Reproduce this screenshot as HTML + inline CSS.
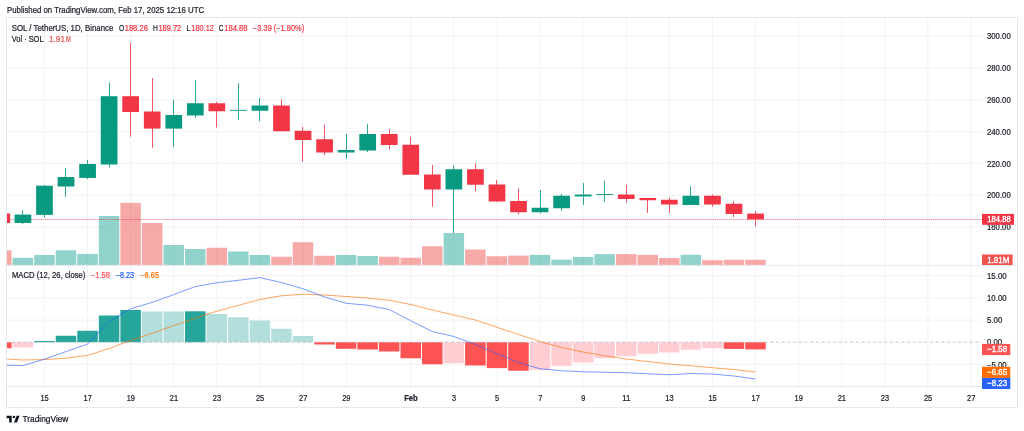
<!DOCTYPE html><html><head><meta charset="utf-8"><title>SOL chart</title><style>html,body{margin:0;padding:0;background:#fff}body{width:1024px;height:431px;position:relative;overflow:hidden;font-family:"Liberation Sans",sans-serif}</style></head><body><svg width="1024" height="431" viewBox="0 0 1024 431" style="position:absolute;left:0;top:0;will-change:transform;font-family:'Liberation Sans',sans-serif">
<defs><clipPath id="cp"><rect x="7" y="17.5" width="975" height="369.1"/></clipPath></defs>
<g stroke="#f2f2f4" stroke-width="1" shape-rendering="auto">
<line x1="44.43" y1="17.5" x2="44.43" y2="389.6"/>
<line x1="87.52" y1="17.5" x2="87.52" y2="389.6"/>
<line x1="130.62" y1="17.5" x2="130.62" y2="389.6"/>
<line x1="173.71" y1="17.5" x2="173.71" y2="389.6"/>
<line x1="216.81" y1="17.5" x2="216.81" y2="389.6"/>
<line x1="259.90" y1="17.5" x2="259.90" y2="389.6"/>
<line x1="302.99" y1="17.5" x2="302.99" y2="389.6"/>
<line x1="346.09" y1="17.5" x2="346.09" y2="389.6"/>
<line x1="410.73" y1="17.5" x2="410.73" y2="389.6"/>
<line x1="453.82" y1="17.5" x2="453.82" y2="389.6"/>
<line x1="496.92" y1="17.5" x2="496.92" y2="389.6"/>
<line x1="540.01" y1="17.5" x2="540.01" y2="389.6"/>
<line x1="583.11" y1="17.5" x2="583.11" y2="389.6"/>
<line x1="626.20" y1="17.5" x2="626.20" y2="389.6"/>
<line x1="669.29" y1="17.5" x2="669.29" y2="389.6"/>
<line x1="712.39" y1="17.5" x2="712.39" y2="389.6"/>
<line x1="755.48" y1="17.5" x2="755.48" y2="389.6"/>
<line x1="798.57" y1="17.5" x2="798.57" y2="389.6"/>
<line x1="841.67" y1="17.5" x2="841.67" y2="389.6"/>
<line x1="884.76" y1="17.5" x2="884.76" y2="389.6"/>
<line x1="927.86" y1="17.5" x2="927.86" y2="389.6"/>
<line x1="970.95" y1="17.5" x2="970.95" y2="389.6"/>
<line x1="6.5" y1="36.20" x2="982" y2="36.20"/>
<line x1="6.5" y1="68.00" x2="982" y2="68.00"/>
<line x1="6.5" y1="99.80" x2="982" y2="99.80"/>
<line x1="6.5" y1="131.60" x2="982" y2="131.60"/>
<line x1="6.5" y1="163.40" x2="982" y2="163.40"/>
<line x1="6.5" y1="195.20" x2="982" y2="195.20"/>
<line x1="6.5" y1="227.00" x2="982" y2="227.00"/>
<line x1="6.5" y1="275.60" x2="982" y2="275.60"/>
<line x1="6.5" y1="297.80" x2="982" y2="297.80"/>
<line x1="6.5" y1="320.00" x2="982" y2="320.00"/>
<line x1="6.5" y1="364.40" x2="982" y2="364.40"/>
</g>
<g stroke="#e6e7ea" stroke-width="1" fill="none">
<rect x="6.5" y="17.5" width="1011" height="389.9"/>
<line x1="6.5" y1="265.4" x2="1017.5" y2="265.4"/>
<line x1="6.5" y1="386.6" x2="982" y2="386.6"/>
</g>
<g clip-path="url(#cp)">
<rect x="-8.91" y="250.30" width="20.5" height="14.60" fill="rgba(239,83,80,0.5)"/>
<rect x="12.63" y="257.80" width="20.5" height="7.10" fill="rgba(38,166,154,0.5)"/>
<rect x="34.18" y="255.00" width="20.5" height="9.90" fill="rgba(38,166,154,0.5)"/>
<rect x="55.73" y="250.30" width="20.5" height="14.60" fill="rgba(38,166,154,0.5)"/>
<rect x="77.27" y="253.90" width="20.5" height="11.00" fill="rgba(38,166,154,0.5)"/>
<rect x="98.82" y="216.00" width="20.5" height="48.90" fill="rgba(38,166,154,0.5)"/>
<rect x="120.37" y="202.90" width="20.5" height="62.00" fill="rgba(239,83,80,0.5)"/>
<rect x="141.91" y="223.00" width="20.5" height="41.90" fill="rgba(239,83,80,0.5)"/>
<rect x="163.46" y="245.00" width="20.5" height="19.90" fill="rgba(38,166,154,0.5)"/>
<rect x="185.01" y="249.00" width="20.5" height="15.90" fill="rgba(38,166,154,0.5)"/>
<rect x="206.56" y="247.75" width="20.5" height="17.15" fill="rgba(239,83,80,0.5)"/>
<rect x="228.10" y="251.50" width="20.5" height="13.40" fill="rgba(38,166,154,0.5)"/>
<rect x="249.65" y="255.00" width="20.5" height="9.90" fill="rgba(38,166,154,0.5)"/>
<rect x="271.20" y="256.75" width="20.5" height="8.15" fill="rgba(239,83,80,0.5)"/>
<rect x="292.74" y="242.25" width="20.5" height="22.65" fill="rgba(239,83,80,0.5)"/>
<rect x="314.29" y="255.75" width="20.5" height="9.15" fill="rgba(239,83,80,0.5)"/>
<rect x="335.84" y="255.00" width="20.5" height="9.90" fill="rgba(38,166,154,0.5)"/>
<rect x="357.38" y="256.00" width="20.5" height="8.90" fill="rgba(38,166,154,0.5)"/>
<rect x="378.93" y="256.75" width="20.5" height="8.15" fill="rgba(239,83,80,0.5)"/>
<rect x="400.48" y="257.75" width="20.5" height="7.15" fill="rgba(239,83,80,0.5)"/>
<rect x="422.03" y="246.25" width="20.5" height="18.65" fill="rgba(239,83,80,0.5)"/>
<rect x="443.57" y="233.00" width="20.5" height="31.90" fill="rgba(38,166,154,0.5)"/>
<rect x="465.12" y="249.50" width="20.5" height="15.40" fill="rgba(239,83,80,0.5)"/>
<rect x="486.67" y="256.25" width="20.5" height="8.65" fill="rgba(239,83,80,0.5)"/>
<rect x="508.21" y="255.60" width="20.5" height="9.30" fill="rgba(239,83,80,0.5)"/>
<rect x="529.76" y="254.90" width="20.5" height="10.00" fill="rgba(38,166,154,0.5)"/>
<rect x="551.31" y="259.60" width="20.5" height="5.30" fill="rgba(38,166,154,0.5)"/>
<rect x="572.86" y="256.90" width="20.5" height="8.00" fill="rgba(38,166,154,0.5)"/>
<rect x="594.40" y="254.10" width="20.5" height="10.80" fill="rgba(38,166,154,0.5)"/>
<rect x="615.95" y="254.10" width="20.5" height="10.80" fill="rgba(239,83,80,0.5)"/>
<rect x="637.50" y="254.90" width="20.5" height="10.00" fill="rgba(239,83,80,0.5)"/>
<rect x="659.04" y="258.00" width="20.5" height="6.90" fill="rgba(239,83,80,0.5)"/>
<rect x="680.59" y="254.75" width="20.5" height="10.15" fill="rgba(38,166,154,0.5)"/>
<rect x="702.14" y="260.25" width="20.5" height="4.65" fill="rgba(239,83,80,0.5)"/>
<rect x="723.68" y="259.75" width="20.5" height="5.15" fill="rgba(239,83,80,0.5)"/>
<rect x="745.23" y="259.75" width="20.5" height="5.15" fill="rgba(239,83,80,0.5)"/>
<line x1="7" y1="219.5" x2="982" y2="219.5" stroke="#f23645" stroke-width="1" stroke-dasharray="1 1" opacity="0.45" shape-rendering="crispEdges"/>
<line x1="7" y1="219.5" x2="982" y2="219.5" stroke="#f23645" stroke-width="1" opacity="0.18"/>
<line x1="1.50" y1="213.50" x2="1.50" y2="223.00" stroke="#f23645" stroke-width="0.85"/>
<rect x="-6.56" y="213.50" width="16.7" height="9.50" fill="#f23645"/>
<line x1="22.50" y1="210.40" x2="22.50" y2="224.00" stroke="#089981" stroke-width="0.85"/>
<rect x="14.58" y="214.60" width="16.7" height="8.40" fill="#089981"/>
<line x1="44.50" y1="185.00" x2="44.50" y2="217.70" stroke="#089981" stroke-width="0.85"/>
<rect x="36.13" y="185.70" width="16.7" height="29.20" fill="#089981"/>
<line x1="65.50" y1="168.00" x2="65.50" y2="196.80" stroke="#089981" stroke-width="0.85"/>
<rect x="57.68" y="177.00" width="16.7" height="9.50" fill="#089981"/>
<line x1="87.50" y1="160.00" x2="87.50" y2="179.00" stroke="#089981" stroke-width="0.85"/>
<rect x="79.22" y="164.00" width="16.7" height="13.90" fill="#089981"/>
<line x1="109.50" y1="82.40" x2="109.50" y2="167.30" stroke="#089981" stroke-width="0.85"/>
<rect x="100.77" y="96.20" width="16.7" height="68.30" fill="#089981"/>
<line x1="130.50" y1="42.60" x2="130.50" y2="136.70" stroke="#f23645" stroke-width="0.85"/>
<rect x="122.32" y="96.20" width="16.7" height="15.80" fill="#f23645"/>
<line x1="152.50" y1="78.00" x2="152.50" y2="147.70" stroke="#f23645" stroke-width="0.85"/>
<rect x="143.86" y="111.50" width="16.7" height="17.10" fill="#f23645"/>
<line x1="173.50" y1="99.70" x2="173.50" y2="147.00" stroke="#089981" stroke-width="0.85"/>
<rect x="165.41" y="115.00" width="16.7" height="13.60" fill="#089981"/>
<line x1="195.50" y1="80.00" x2="195.50" y2="118.00" stroke="#089981" stroke-width="0.85"/>
<rect x="186.96" y="103.25" width="16.7" height="12.25" fill="#089981"/>
<line x1="216.50" y1="101.75" x2="216.50" y2="127.50" stroke="#f23645" stroke-width="0.85"/>
<rect x="208.51" y="103.25" width="16.7" height="8.00" fill="#f23645"/>
<line x1="238.50" y1="83.25" x2="238.50" y2="120.00" stroke="#089981" stroke-width="0.85"/>
<rect x="230.05" y="109.90" width="16.7" height="0.90" fill="#089981"/>
<line x1="259.50" y1="98.00" x2="259.50" y2="121.25" stroke="#089981" stroke-width="0.85"/>
<rect x="251.60" y="105.50" width="16.7" height="5.25" fill="#089981"/>
<line x1="281.50" y1="99.50" x2="281.50" y2="131.25" stroke="#f23645" stroke-width="0.85"/>
<rect x="273.15" y="105.50" width="16.7" height="25.75" fill="#f23645"/>
<line x1="302.50" y1="127.00" x2="302.50" y2="161.50" stroke="#f23645" stroke-width="0.85"/>
<rect x="294.69" y="130.75" width="16.7" height="9.25" fill="#f23645"/>
<line x1="324.50" y1="124.50" x2="324.50" y2="155.00" stroke="#f23645" stroke-width="0.85"/>
<rect x="316.24" y="139.25" width="16.7" height="13.25" fill="#f23645"/>
<line x1="346.50" y1="134.00" x2="346.50" y2="158.75" stroke="#089981" stroke-width="0.85"/>
<rect x="337.79" y="150.00" width="16.7" height="2.50" fill="#089981"/>
<line x1="367.50" y1="124.00" x2="367.50" y2="152.00" stroke="#089981" stroke-width="0.85"/>
<rect x="359.33" y="134.00" width="16.7" height="16.50" fill="#089981"/>
<line x1="389.50" y1="128.75" x2="389.50" y2="149.50" stroke="#f23645" stroke-width="0.85"/>
<rect x="380.88" y="134.00" width="16.7" height="11.00" fill="#f23645"/>
<line x1="410.50" y1="137.00" x2="410.50" y2="174.75" stroke="#f23645" stroke-width="0.85"/>
<rect x="402.43" y="144.75" width="16.7" height="30.00" fill="#f23645"/>
<line x1="432.50" y1="165.00" x2="432.50" y2="206.75" stroke="#f23645" stroke-width="0.85"/>
<rect x="423.98" y="174.50" width="16.7" height="15.00" fill="#f23645"/>
<line x1="453.50" y1="165.50" x2="453.50" y2="233.00" stroke="#089981" stroke-width="0.85"/>
<rect x="445.52" y="169.25" width="16.7" height="20.25" fill="#089981"/>
<line x1="475.50" y1="163.25" x2="475.50" y2="191.50" stroke="#f23645" stroke-width="0.85"/>
<rect x="467.07" y="169.25" width="16.7" height="15.50" fill="#f23645"/>
<line x1="496.50" y1="180.00" x2="496.50" y2="202.00" stroke="#f23645" stroke-width="0.85"/>
<rect x="488.62" y="184.50" width="16.7" height="17.00" fill="#f23645"/>
<line x1="518.50" y1="188.50" x2="518.50" y2="214.50" stroke="#f23645" stroke-width="0.85"/>
<rect x="510.16" y="201.00" width="16.7" height="11.25" fill="#f23645"/>
<line x1="540.50" y1="190.00" x2="540.50" y2="213.50" stroke="#089981" stroke-width="0.85"/>
<rect x="531.71" y="207.75" width="16.7" height="4.50" fill="#089981"/>
<line x1="561.50" y1="193.75" x2="561.50" y2="210.75" stroke="#089981" stroke-width="0.85"/>
<rect x="553.26" y="195.75" width="16.7" height="12.50" fill="#089981"/>
<line x1="583.50" y1="183.00" x2="583.50" y2="205.00" stroke="#089981" stroke-width="0.85"/>
<rect x="574.81" y="194.50" width="16.7" height="2.00" fill="#089981"/>
<line x1="604.50" y1="180.50" x2="604.50" y2="201.75" stroke="#089981" stroke-width="0.85"/>
<rect x="596.35" y="194.10" width="16.7" height="0.90" fill="#089981"/>
<line x1="626.50" y1="185.00" x2="626.50" y2="202.50" stroke="#f23645" stroke-width="0.85"/>
<rect x="617.90" y="194.50" width="16.7" height="4.50" fill="#f23645"/>
<line x1="647.50" y1="198.00" x2="647.50" y2="213.00" stroke="#f23645" stroke-width="0.85"/>
<rect x="639.45" y="198.00" width="16.7" height="2.25" fill="#f23645"/>
<line x1="669.50" y1="197.50" x2="669.50" y2="213.00" stroke="#f23645" stroke-width="0.85"/>
<rect x="660.99" y="199.75" width="16.7" height="4.75" fill="#f23645"/>
<line x1="690.50" y1="186.25" x2="690.50" y2="205.00" stroke="#089981" stroke-width="0.85"/>
<rect x="682.54" y="195.75" width="16.7" height="9.25" fill="#089981"/>
<line x1="712.50" y1="194.50" x2="712.50" y2="206.75" stroke="#f23645" stroke-width="0.85"/>
<rect x="704.09" y="195.75" width="16.7" height="8.75" fill="#f23645"/>
<line x1="733.50" y1="201.25" x2="733.50" y2="217.00" stroke="#f23645" stroke-width="0.85"/>
<rect x="725.63" y="203.75" width="16.7" height="10.25" fill="#f23645"/>
<line x1="755.50" y1="210.90" x2="755.50" y2="226.60" stroke="#f23645" stroke-width="0.85"/>
<rect x="747.18" y="213.60" width="16.7" height="5.80" fill="#f23645"/>
<rect x="-8.91" y="342.20" width="20.5" height="6.05" fill="#ff5252"/>
<rect x="12.63" y="342.20" width="20.5" height="5.30" fill="#ffcdd2"/>
<rect x="34.18" y="341.00" width="20.5" height="1.20" fill="#26a69a"/>
<rect x="55.73" y="335.75" width="20.5" height="6.45" fill="#26a69a"/>
<rect x="77.27" y="330.75" width="20.5" height="11.45" fill="#26a69a"/>
<rect x="98.82" y="315.50" width="20.5" height="26.70" fill="#26a69a"/>
<rect x="120.37" y="310.00" width="20.5" height="32.20" fill="#26a69a"/>
<rect x="141.91" y="311.50" width="20.5" height="30.70" fill="#b2dfdb"/>
<rect x="163.46" y="311.50" width="20.5" height="30.70" fill="#b2dfdb"/>
<rect x="185.01" y="311.30" width="20.5" height="30.90" fill="#26a69a"/>
<rect x="206.56" y="314.00" width="20.5" height="28.20" fill="#b2dfdb"/>
<rect x="228.10" y="317.25" width="20.5" height="24.95" fill="#b2dfdb"/>
<rect x="249.65" y="320.50" width="20.5" height="21.70" fill="#b2dfdb"/>
<rect x="271.20" y="328.75" width="20.5" height="13.45" fill="#b2dfdb"/>
<rect x="292.74" y="336.00" width="20.5" height="6.20" fill="#b2dfdb"/>
<rect x="314.29" y="342.20" width="20.5" height="2.30" fill="#ff5252"/>
<rect x="335.84" y="342.20" width="20.5" height="6.55" fill="#ff5252"/>
<rect x="357.38" y="342.20" width="20.5" height="7.30" fill="#ff5252"/>
<rect x="378.93" y="342.20" width="20.5" height="9.30" fill="#ff5252"/>
<rect x="400.48" y="342.20" width="20.5" height="16.05" fill="#ff5252"/>
<rect x="422.03" y="342.20" width="20.5" height="22.05" fill="#ff5252"/>
<rect x="443.57" y="342.20" width="20.5" height="21.05" fill="#ffcdd2"/>
<rect x="465.12" y="342.20" width="20.5" height="23.30" fill="#ff5252"/>
<rect x="486.67" y="342.20" width="20.5" height="25.90" fill="#ff5252"/>
<rect x="508.21" y="342.20" width="20.5" height="28.55" fill="#ff5252"/>
<rect x="529.76" y="342.20" width="20.5" height="27.80" fill="#ffcdd2"/>
<rect x="551.31" y="342.20" width="20.5" height="24.05" fill="#ffcdd2"/>
<rect x="572.86" y="342.20" width="20.5" height="20.30" fill="#ffcdd2"/>
<rect x="594.40" y="342.20" width="20.5" height="16.05" fill="#ffcdd2"/>
<rect x="615.95" y="342.20" width="20.5" height="14.05" fill="#ffcdd2"/>
<rect x="637.50" y="342.20" width="20.5" height="11.55" fill="#ffcdd2"/>
<rect x="659.04" y="342.20" width="20.5" height="10.30" fill="#ffcdd2"/>
<rect x="680.59" y="342.20" width="20.5" height="7.55" fill="#ffcdd2"/>
<rect x="702.14" y="342.20" width="20.5" height="6.05" fill="#ffcdd2"/>
<rect x="723.68" y="342.20" width="20.5" height="6.70" fill="#ff5252"/>
<rect x="745.23" y="342.20" width="20.5" height="7.20" fill="#ff5252"/>
<line x1="6.5" y1="342.2" x2="982" y2="342.2" stroke="#b4b7bf" stroke-width="0.8" stroke-dasharray="3 2.7"/>
<polyline points="1.34,358.75 22.88,360.00 44.43,359.60 65.98,358.20 87.52,355.40 109.07,348.50 130.62,340.50 152.16,333.20 173.71,325.60 195.26,318.30 216.81,311.20 238.35,305.40 259.90,299.50 281.45,295.75 302.99,294.25 324.54,295.00 346.09,296.50 367.63,298.00 389.18,300.25 410.73,304.50 432.28,310.00 453.82,315.00 475.37,320.00 496.92,327.30 518.46,334.50 540.01,341.50 561.56,347.50 583.11,352.00 604.65,355.75 626.20,359.00 647.75,361.50 669.29,364.00 690.84,365.75 712.39,367.75 733.93,369.50 755.48,372.00" fill="none" stroke="#ff6d00" stroke-width="0.85" stroke-linejoin="round" opacity="0.75"/>
<polyline points="1.34,365.00 22.88,365.60 44.43,359.20 65.98,351.60 87.52,344.10 109.07,321.50 130.62,308.70 152.16,302.40 173.71,294.60 195.26,286.60 216.81,282.75 238.35,280.30 259.90,277.60 281.45,282.50 302.99,288.75 324.54,297.00 346.09,303.25 367.63,305.25 389.18,309.50 410.73,320.75 432.28,331.50 453.82,336.50 475.37,344.50 496.92,353.50 518.46,362.50 540.01,368.75 561.56,370.75 583.11,371.75 604.65,372.25 626.20,372.75 647.75,373.75 669.29,374.75 690.84,373.50 712.39,374.00 733.93,376.00 755.48,379.00" fill="none" stroke="#2962ff" stroke-width="0.85" stroke-linejoin="round" opacity="0.75"/>
</g>
<text x="7.00" y="12.70" font-size="8.4" fill="#20232d" stroke="#20232d" stroke-width="0.22" text-anchor="start" font-weight="normal" textLength="197.20" lengthAdjust="spacingAndGlyphs">Published on TradingView.com, Feb 17, 2025 12:16 UTC</text>
<text x="11.80" y="30.80" font-size="8.4" fill="#20232d" stroke="#20232d" stroke-width="0.22" text-anchor="start" font-weight="normal" textLength="101.50" lengthAdjust="spacingAndGlyphs">SOL / TetherUS, 1D, Binance</text>
<text x="118.90" y="30.80" font-size="8.4" fill="#20232d" stroke="#20232d" stroke-width="0.22" text-anchor="start" font-weight="normal" textLength="5.20" lengthAdjust="spacingAndGlyphs">O</text>
<text x="124.70" y="30.80" font-size="8.4" fill="#f23645" stroke="#f23645" stroke-width="0.22" text-anchor="start" font-weight="normal" textLength="23.20" lengthAdjust="spacingAndGlyphs">188.26</text>
<text x="153.10" y="30.80" font-size="8.4" fill="#20232d" stroke="#20232d" stroke-width="0.22" text-anchor="start" font-weight="normal" textLength="4.80" lengthAdjust="spacingAndGlyphs">H</text>
<text x="158.40" y="30.80" font-size="8.4" fill="#f23645" stroke="#f23645" stroke-width="0.22" text-anchor="start" font-weight="normal" textLength="22.80" lengthAdjust="spacingAndGlyphs">189.72</text>
<text x="186.60" y="30.80" font-size="8.4" fill="#20232d" stroke="#20232d" stroke-width="0.22" text-anchor="start" font-weight="normal" textLength="3.90" lengthAdjust="spacingAndGlyphs">L</text>
<text x="191.30" y="30.80" font-size="8.4" fill="#f23645" stroke="#f23645" stroke-width="0.22" text-anchor="start" font-weight="normal" textLength="22.60" lengthAdjust="spacingAndGlyphs">180.12</text>
<text x="218.80" y="30.80" font-size="8.4" fill="#20232d" stroke="#20232d" stroke-width="0.22" text-anchor="start" font-weight="normal" textLength="4.80" lengthAdjust="spacingAndGlyphs">C</text>
<text x="224.20" y="30.80" font-size="8.4" fill="#f23645" stroke="#f23645" stroke-width="0.22" text-anchor="start" font-weight="normal" textLength="23.40" lengthAdjust="spacingAndGlyphs">184.88</text>
<text x="253.00" y="30.80" font-size="8.4" fill="#f23645" stroke="#f23645" stroke-width="0.22" text-anchor="start" font-weight="normal" textLength="51.10" lengthAdjust="spacingAndGlyphs">−3.39 (−1.80%)</text>
<text x="11.80" y="42.10" font-size="8.4" fill="#20232d" stroke="#20232d" stroke-width="0.22" text-anchor="start" font-weight="normal" textLength="31.70" lengthAdjust="spacingAndGlyphs">Vol · SOL</text>
<text x="48.90" y="42.10" font-size="8.4" fill="#ef5350" stroke="#ef5350" stroke-width="0.22" text-anchor="start" font-weight="normal" textLength="16.10" lengthAdjust="spacingAndGlyphs">1.91</text>
<text x="66.00" y="42.10" font-size="8.4" fill="#ef5350" stroke="#ef5350" stroke-width="0.22" text-anchor="start" font-weight="normal" textLength="4.90" lengthAdjust="spacingAndGlyphs">M</text>
<text x="11.95" y="278.10" font-size="8.4" fill="#20232d" stroke="#20232d" stroke-width="0.22" text-anchor="start" font-weight="normal" textLength="73.50" lengthAdjust="spacingAndGlyphs">MACD (12, 26, close)</text>
<text x="91.00" y="278.10" font-size="8.4" fill="#ff5252" stroke="#ff5252" stroke-width="0.22" text-anchor="start" font-weight="normal" textLength="18.90" lengthAdjust="spacingAndGlyphs">−1.58</text>
<text x="115.70" y="278.10" font-size="8.4" fill="#2962ff" stroke="#2962ff" stroke-width="0.22" text-anchor="start" font-weight="normal" textLength="18.40" lengthAdjust="spacingAndGlyphs">−8.23</text>
<text x="140.30" y="278.10" font-size="8.4" fill="#ff6d00" stroke="#ff6d00" stroke-width="0.22" text-anchor="start" font-weight="normal" textLength="18.70" lengthAdjust="spacingAndGlyphs">−6.65</text>
<text x="987.00" y="39.30" font-size="8.4" fill="#20232d" stroke="#20232d" stroke-width="0.22" text-anchor="start" font-weight="normal" textLength="23.70" lengthAdjust="spacingAndGlyphs">300.00</text>
<text x="987.00" y="71.10" font-size="8.4" fill="#20232d" stroke="#20232d" stroke-width="0.22" text-anchor="start" font-weight="normal" textLength="23.70" lengthAdjust="spacingAndGlyphs">280.00</text>
<text x="987.00" y="102.90" font-size="8.4" fill="#20232d" stroke="#20232d" stroke-width="0.22" text-anchor="start" font-weight="normal" textLength="23.70" lengthAdjust="spacingAndGlyphs">260.00</text>
<text x="987.00" y="134.70" font-size="8.4" fill="#20232d" stroke="#20232d" stroke-width="0.22" text-anchor="start" font-weight="normal" textLength="23.70" lengthAdjust="spacingAndGlyphs">240.00</text>
<text x="987.00" y="166.50" font-size="8.4" fill="#20232d" stroke="#20232d" stroke-width="0.22" text-anchor="start" font-weight="normal" textLength="23.70" lengthAdjust="spacingAndGlyphs">220.00</text>
<text x="987.00" y="198.30" font-size="8.4" fill="#20232d" stroke="#20232d" stroke-width="0.22" text-anchor="start" font-weight="normal" textLength="23.70" lengthAdjust="spacingAndGlyphs">200.00</text>
<text x="987.00" y="230.10" font-size="8.4" fill="#20232d" stroke="#20232d" stroke-width="0.22" text-anchor="start" font-weight="normal" textLength="23.70" lengthAdjust="spacingAndGlyphs">180.00</text>
<text x="987.00" y="278.70" font-size="8.4" fill="#20232d" stroke="#20232d" stroke-width="0.22" text-anchor="start" font-weight="normal" textLength="19.60" lengthAdjust="spacingAndGlyphs">15.00</text>
<text x="987.00" y="300.90" font-size="8.4" fill="#20232d" stroke="#20232d" stroke-width="0.22" text-anchor="start" font-weight="normal" textLength="19.60" lengthAdjust="spacingAndGlyphs">10.00</text>
<text x="987.00" y="323.10" font-size="8.4" fill="#20232d" stroke="#20232d" stroke-width="0.22" text-anchor="start" font-weight="normal" textLength="15.40" lengthAdjust="spacingAndGlyphs">5.00</text>
<text x="987.00" y="345.30" font-size="8.4" fill="#20232d" stroke="#20232d" stroke-width="0.22" text-anchor="start" font-weight="normal" textLength="15.20" lengthAdjust="spacingAndGlyphs">0.00</text>
<text x="987.00" y="367.50" font-size="8.4" fill="#20232d" stroke="#20232d" stroke-width="0.22" text-anchor="start" font-weight="normal" textLength="19.70" lengthAdjust="spacingAndGlyphs">−5.00</text>
<rect x="982" y="213.9" width="32" height="10.9" fill="#f23645"/>
<text x="987.20" y="222.25" font-size="8.4" fill="#fff" stroke="#fff" stroke-width="0.35" text-anchor="start" font-weight="normal" textLength="23.50" lengthAdjust="spacingAndGlyphs">184.88</text>
<rect x="982" y="254.5" width="30.6" height="10.5" fill="#ef5350"/>
<text x="987.20" y="262.65" font-size="8.4" fill="#fff" stroke="#fff" stroke-width="0.35" text-anchor="start" font-weight="normal" textLength="22.20" lengthAdjust="spacingAndGlyphs">1.91M</text>
<rect x="982" y="343.9" width="28.3" height="11.2" fill="#ff5252"/>
<text x="987.20" y="352.40" font-size="8.4" fill="#fff" stroke="#fff" stroke-width="0.35" text-anchor="start" font-weight="normal" textLength="19.90" lengthAdjust="spacingAndGlyphs">−1.58</text>
<rect x="982" y="366.8" width="28.3" height="11.1" fill="#ff6d00"/>
<text x="987.20" y="375.25" font-size="8.4" fill="#fff" stroke="#fff" stroke-width="0.35" text-anchor="start" font-weight="normal" textLength="19.90" lengthAdjust="spacingAndGlyphs">−6.65</text>
<rect x="982" y="377.9" width="28.3" height="11.1" fill="#2962ff"/>
<text x="987.20" y="386.35" font-size="8.4" fill="#fff" stroke="#fff" stroke-width="0.35" text-anchor="start" font-weight="normal" textLength="19.90" lengthAdjust="spacingAndGlyphs">−8.23</text>
<text x="40.48" y="401.10" font-size="8.4" fill="#20232d" stroke="#20232d" stroke-width="0.22" text-anchor="start" font-weight="normal" textLength="8.30" lengthAdjust="spacingAndGlyphs">15</text>
<text x="83.57" y="401.10" font-size="8.4" fill="#20232d" stroke="#20232d" stroke-width="0.22" text-anchor="start" font-weight="normal" textLength="8.30" lengthAdjust="spacingAndGlyphs">17</text>
<text x="126.67" y="401.10" font-size="8.4" fill="#20232d" stroke="#20232d" stroke-width="0.22" text-anchor="start" font-weight="normal" textLength="8.30" lengthAdjust="spacingAndGlyphs">19</text>
<text x="169.76" y="401.10" font-size="8.4" fill="#20232d" stroke="#20232d" stroke-width="0.22" text-anchor="start" font-weight="normal" textLength="8.30" lengthAdjust="spacingAndGlyphs">21</text>
<text x="212.86" y="401.10" font-size="8.4" fill="#20232d" stroke="#20232d" stroke-width="0.22" text-anchor="start" font-weight="normal" textLength="8.30" lengthAdjust="spacingAndGlyphs">23</text>
<text x="255.95" y="401.10" font-size="8.4" fill="#20232d" stroke="#20232d" stroke-width="0.22" text-anchor="start" font-weight="normal" textLength="8.30" lengthAdjust="spacingAndGlyphs">25</text>
<text x="299.04" y="401.10" font-size="8.4" fill="#20232d" stroke="#20232d" stroke-width="0.22" text-anchor="start" font-weight="normal" textLength="8.30" lengthAdjust="spacingAndGlyphs">27</text>
<text x="342.14" y="401.10" font-size="8.4" fill="#20232d" stroke="#20232d" stroke-width="0.22" text-anchor="start" font-weight="normal" textLength="8.30" lengthAdjust="spacingAndGlyphs">29</text>
<text x="404.13" y="401.10" font-size="8.4" fill="#20232d" stroke="#20232d" stroke-width="0.22" text-anchor="start" font-weight="bold" textLength="13.60" lengthAdjust="spacingAndGlyphs">Feb</text>
<text x="451.97" y="401.10" font-size="8.4" fill="#20232d" stroke="#20232d" stroke-width="0.22" text-anchor="start" font-weight="normal" textLength="4.10" lengthAdjust="spacingAndGlyphs">3</text>
<text x="495.07" y="401.10" font-size="8.4" fill="#20232d" stroke="#20232d" stroke-width="0.22" text-anchor="start" font-weight="normal" textLength="4.10" lengthAdjust="spacingAndGlyphs">5</text>
<text x="538.16" y="401.10" font-size="8.4" fill="#20232d" stroke="#20232d" stroke-width="0.22" text-anchor="start" font-weight="normal" textLength="4.10" lengthAdjust="spacingAndGlyphs">7</text>
<text x="581.26" y="401.10" font-size="8.4" fill="#20232d" stroke="#20232d" stroke-width="0.22" text-anchor="start" font-weight="normal" textLength="4.10" lengthAdjust="spacingAndGlyphs">9</text>
<text x="622.25" y="401.10" font-size="8.4" fill="#20232d" stroke="#20232d" stroke-width="0.22" text-anchor="start" font-weight="normal" textLength="8.30" lengthAdjust="spacingAndGlyphs">11</text>
<text x="665.34" y="401.10" font-size="8.4" fill="#20232d" stroke="#20232d" stroke-width="0.22" text-anchor="start" font-weight="normal" textLength="8.30" lengthAdjust="spacingAndGlyphs">13</text>
<text x="708.44" y="401.10" font-size="8.4" fill="#20232d" stroke="#20232d" stroke-width="0.22" text-anchor="start" font-weight="normal" textLength="8.30" lengthAdjust="spacingAndGlyphs">15</text>
<text x="751.53" y="401.10" font-size="8.4" fill="#20232d" stroke="#20232d" stroke-width="0.22" text-anchor="start" font-weight="normal" textLength="8.30" lengthAdjust="spacingAndGlyphs">17</text>
<text x="794.62" y="401.10" font-size="8.4" fill="#20232d" stroke="#20232d" stroke-width="0.22" text-anchor="start" font-weight="normal" textLength="8.30" lengthAdjust="spacingAndGlyphs">19</text>
<text x="837.72" y="401.10" font-size="8.4" fill="#20232d" stroke="#20232d" stroke-width="0.22" text-anchor="start" font-weight="normal" textLength="8.30" lengthAdjust="spacingAndGlyphs">21</text>
<text x="880.81" y="401.10" font-size="8.4" fill="#20232d" stroke="#20232d" stroke-width="0.22" text-anchor="start" font-weight="normal" textLength="8.30" lengthAdjust="spacingAndGlyphs">23</text>
<text x="923.91" y="401.10" font-size="8.4" fill="#20232d" stroke="#20232d" stroke-width="0.22" text-anchor="start" font-weight="normal" textLength="8.30" lengthAdjust="spacingAndGlyphs">25</text>
<text x="967.00" y="401.10" font-size="8.4" fill="#20232d" stroke="#20232d" stroke-width="0.22" text-anchor="start" font-weight="normal" textLength="8.30" lengthAdjust="spacingAndGlyphs">27</text>
<g transform="translate(6.6,415.7) scale(0.3667)" fill="#131722"><path d="M14 18.3H7V7H0V0h14v18.3z"/><circle cx="20" cy="3.6" r="3.6"/><path d="M28 18.3h-8L27.5 0h8L28 18.3z"/></g>
<text x="22.50" y="421.80" font-size="8.5" fill="#131722" stroke="#131722" stroke-width="0.22" text-anchor="start" font-weight="normal" textLength="45.90" lengthAdjust="spacingAndGlyphs">TradingView</text>
</svg></body></html>
